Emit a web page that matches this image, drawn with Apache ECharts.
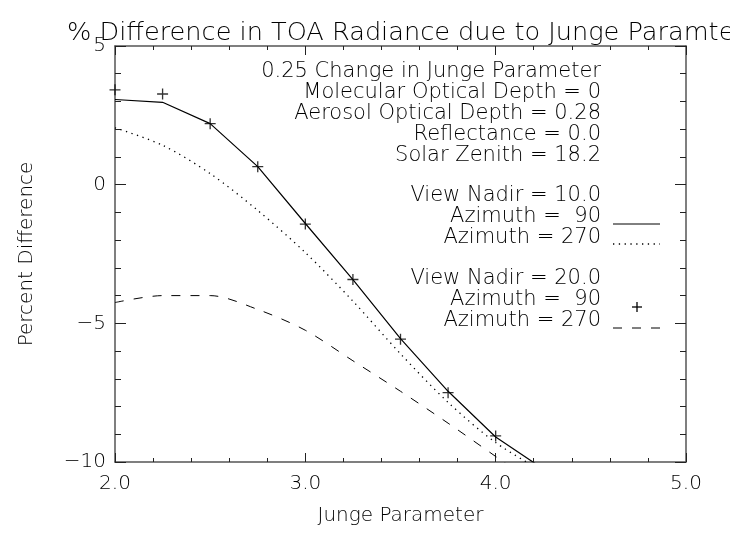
<!DOCTYPE html>
<html>
<head>
<meta charset="utf-8">
<script src="https://cdn.jsdelivr.net/npm/echarts@6/dist/echarts.min.js"></script>
<style>
  html, body { margin: 0; background: #fff; }
  #chart { width: 730px; height: 534px; }
</style>
</head>
<body>
<div id="chart"></div>
<script>
// Junge parameter samples (x) and percent difference values
const junge = [2.0, 2.25, 2.5, 2.75, 3.0, 3.25, 3.5, 3.75, 4.0, 4.25]
const nadir10Az90 = [3.07, 2.97, 2.2, 0.65, -1.4, -3.42, -5.55, -7.45, -9.1, -10.25]
const nadir10Az270 = [2.05, 1.42, 0.4, -0.93, -2.45, -4.2, -6.1, -7.85, -9.3, -10.35]
const nadir20Az90 = [3.42, 3.27, 2.2, 0.65, -1.42, -3.42, -5.57, -7.5, -9.06, null]
const nadir20Az270 = [-4.25, -4.0, -4.0, -4.5, -5.25, -6.35, -7.45, -8.6, -9.8, -11.0]

const xTicks = [2, 3, 4, 5]
const yTicks = [-10, -5, 0, 5]

const titleText = '% Difference in TOA Radiance due to Junge Paramte'
const notes = [
  '0.25 Change in Junge Parameter',
  'Molecular Optical Depth = 0',
  'Aerosol Optical Depth = 0.28',
  'Reflectance = 0.0',
  'Solar Zenith = 18.2'
]
const group10 = ['View Nadir = 10.0', 'Azimuth =  90', 'Azimuth = 270']
const group20 = ['View Nadir = 20.0', 'Azimuth =  90', 'Azimuth = 270']

const pairs = (ys) => junge.map((x, i) => [x, ys[i]])
const font = 'DejaVu Sans'
const ink = '#000'

function axisBase(isX, showLabels) {
  return {
    type: 'value',
    min: isX ? xTicks[0] : yTicks[0],
    max: isX ? xTicks[xTicks.length - 1] : yTicks[yTicks.length - 1],
    interval: isX ? 1 : 5,
    axisLine: { show: true, onZero: false, lineStyle: { color: '#555', width: 1.5 } },
    axisTick: { show: true, inside: true, length: isX ? 9 : 11, lineStyle: { color: '#222', width: 1 } },
    minorTick: { show: true, splitNumber: 5, length: isX ? 4 : 6, lineStyle: { color: '#222', width: 1 } },
    splitLine: { show: false },
    axisLabel: {
      show: showLabels,
      color: ink,
      fontFamily: font,
      fontWeight: 200,
      fontSize: 20,
      margin: isX ? 12 : 9,
      formatter: isX ? (v) => v.toFixed(1) : (v) => String(v).replace('-', '\u2212')
    }
  }
}

const noteLines = []
notes.forEach((t, i) => noteLines.push({ t, y: 72 + i * 21 }))
group10.forEach((t, i) => noteLines.push({ t, y: 196 + i * 21 }))
group20.forEach((t, i) => noteLines.push({ t, y: 279 + i * 21 }))

const graphics = noteLines.map((n) => ({
  type: 'text',
  x: 601,
  y: n.y,
  style: {
    text: n.t,
    align: 'right',
    verticalAlign: 'middle',
    fontFamily: font,
    fontWeight: 200,
    fontSize: 21,
    fill: ink
  }
}))

// legend samples
graphics.push(
  { type: 'line', shape: { x1: 613, y1: 224, x2: 660, y2: 224 }, style: { stroke: ink, lineWidth: 1 } },
  { type: 'line', shape: { x1: 613, y1: 244, x2: 660, y2: 244 }, style: { stroke: ink, lineWidth: 1.3, lineDash: [1.3, 4.5] } },
  { type: 'line', shape: { x1: 632, y1: 307, x2: 642, y2: 307 }, style: { stroke: ink, lineWidth: 1.3 } },
  { type: 'line', shape: { x1: 637, y1: 302, x2: 637, y2: 312 }, style: { stroke: ink, lineWidth: 1.3 } },
  { type: 'line', shape: { x1: 613, y1: 328, x2: 660, y2: 328 }, style: { stroke: ink, lineWidth: 1, lineDash: [9, 10] } }
)

const chart = echarts.init(document.getElementById('chart'))
chart.setOption({
  animation: false,
  backgroundColor: '#fff',
  title: {
    text: titleText,
    left: 62,
    top: 15,
    textStyle: { color: ink, fontFamily: font, fontWeight: 200, fontSize: 25.6 }
  },
  grid: { left: 115, right: 44, top: 46, bottom: 72 },
  xAxis: [
    Object.assign(axisBase(true, true), {
      position: 'bottom',
      name: 'Junge Parameter',
      nameLocation: 'middle',
      nameGap: 44,
      nameTextStyle: { color: ink, fontFamily: font, fontWeight: 200, fontSize: 20 }
    }),
    Object.assign(axisBase(true, false), { position: 'top' })
  ],
  yAxis: [
    Object.assign(axisBase(false, true), {
      position: 'left',
      name: 'Percent Difference',
      nameLocation: 'middle',
      nameRotate: 90,
      nameGap: 78,
      nameTextStyle: { color: ink, fontFamily: font, fontWeight: 200, fontSize: 20 }
    }),
    Object.assign(axisBase(false, false), { position: 'right' })
  ],
  graphic: graphics,
  series: [
    {
      name: 'View Nadir 10, Azimuth 90',
      type: 'line',
      data: pairs(nadir10Az90),
      symbol: 'none',
      clip: true,
      lineStyle: { color: ink, width: 1.2 }
    },
    {
      name: 'View Nadir 10, Azimuth 270',
      type: 'line',
      data: pairs(nadir10Az270),
      symbol: 'none',
      smooth: 0.3,
      clip: true,
      lineStyle: { color: ink, width: 1.3, type: [1.3, 4.5] }
    },
    {
      name: 'View Nadir 20, Azimuth 90',
      type: 'scatter',
      data: pairs(nadir20Az90).filter((p) => p[1] !== null),
      symbol: 'path://M0,4.4H10V5.6H0Z M4.4,0H5.6V10H4.4Z',
      symbolSize: 11,
      clip: true,
      itemStyle: { color: ink }
    },
    {
      name: 'View Nadir 20, Azimuth 270',
      type: 'line',
      data: pairs(nadir20Az270),
      symbol: 'none',
      smooth: 0.3,
      clip: true,
      lineStyle: { color: ink, width: 1, type: [9, 10] }
    }
  ]
})
</script>
</body>
</html>
